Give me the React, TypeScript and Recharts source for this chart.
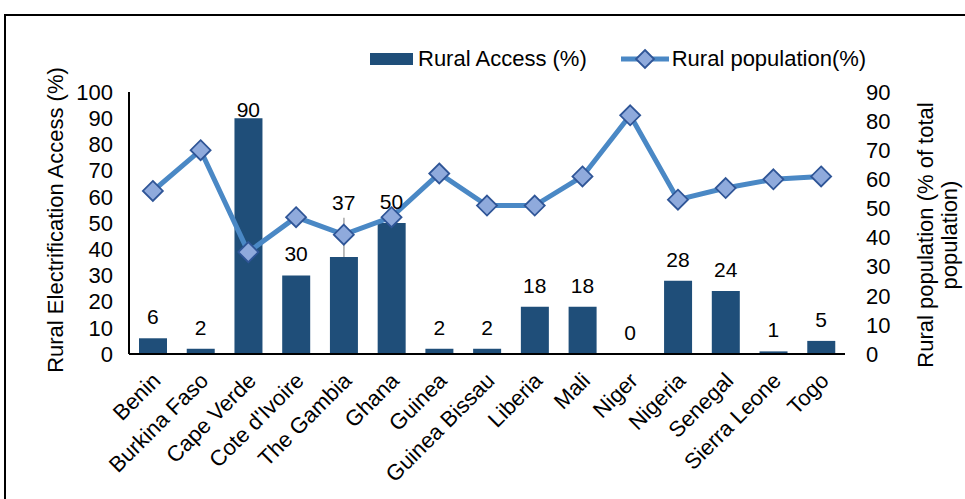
import {
  Bar,
  ComposedChart,
  ErrorBar,
  LabelList,
  Line,
  XAxis,
  YAxis,
} from "recharts";

const countries = [
  "Benin",
  "Burkina Faso",
  "Cape Verde",
  "Cote d'Ivoire",
  "The Gambia",
  "Ghana",
  "Guinea",
  "Guinea Bissau",
  "Liberia",
  "Mali",
  "Niger",
  "Nigeria",
  "Senegal",
  "Sierra Leone",
  "Togo",
];
const ruralAccess = [6, 2, 90, 30, 37, 50, 2, 2, 18, 18, 0, 28, 24, 1, 5];
const ruralPopulation = [56, 70, 35, 47, 41, 47, 62, 51, 51, 61, 82, 53, 57, 60, 61];
// only The Gambia carries an (upward) error bar
const accessError: (number[] | null)[] = [
  null, null, null, null, [0, 15], null, null, null, null, null, null, null, null, null, null,
];
const leftTicks = [0, 10, 20, 30, 40, 50, 60, 70, 80, 90, 100];
const rightTicks = [0, 10, 20, 30, 40, 50, 60, 70, 80, 90];

const data = countries.map((name, i) => ({
  name,
  access: ruralAccess[i],
  population: ruralPopulation[i],
  err: accessError[i],
}));

const FONT = "'Liberation Sans', Arial, sans-serif";
const BAR = "#1F4E79";
const LINE = "#4A88C5";
const DOT_FILL = "#8FAADC";
const DOT_STROKE = "#2F5597";

function Diamond(props: any) {
  const { cx, cy } = props;
  if (cx == null || cy == null) return null;
  const r = 10;
  return (
    <path
      d={`M${cx},${cy - r}L${cx + r},${cy}L${cx},${cy + r}L${cx - r},${cy}Z`}
      fill={DOT_FILL}
      stroke={DOT_STROKE}
      strokeWidth={1.8}
    />
  );
}

function CountryTick(props: any) {
  const { x, y, payload } = props;
  const ax = x + 9;
  const ay = y + 20;
  return (
    <text
      x={ax}
      y={ay}
      transform={`rotate(-45, ${ax}, ${ay})`}
      textAnchor="end"
      fontSize={22}
      fontFamily={FONT}
      fill="#000"
    >
      {payload.value}
    </text>
  );
}

// labels hang off an invisible line so the zero bar (Niger) still gets one
function AccessLabel(props: any) {
  const { x, y, value, index } = props;
  let ly = y - 14;
  if (accessError[index]) ly -= 33;
  if (ly < 117) ly = 117;
  return (
    <text
      x={x}
      y={ly}
      textAnchor="middle"
      fontSize={21}
      fontFamily={FONT}
      fill="#000"
    >
      {value}
    </text>
  );
}

function LegendBox() {
  return (
    <div
      style={{
        position: "absolute",
        left: 370,
        top: 46,
        display: "flex",
        alignItems: "center",
        fontFamily: FONT,
        fontSize: 22,
        color: "#000",
        whiteSpace: "nowrap",
      }}
    >
      <span style={{ display: "inline-block", width: 43, height: 12, background: BAR }} />
      <span style={{ marginLeft: 5 }}>Rural Access (%)</span>
      <svg width={48} height={22} style={{ marginLeft: 34 }}>
        <line x1={0} y1={11} x2={48} y2={11} stroke={LINE} strokeWidth={5} />
        <path d="M24,2L33,11L24,20L15,11Z" fill={DOT_FILL} stroke={DOT_STROKE} strokeWidth={1.8} />
      </svg>
      <span style={{ marginLeft: 3 }}>Rural population(%)</span>
    </div>
  );
}

export default function App() {
  return (
    <div
      style={{
        position: "fixed",
        left: 0,
        top: 0,
        width: 965,
        height: 499,
        overflow: "hidden",
        background: "#fff",
      }}
    >
      <div
        style={{
          position: "absolute",
          left: 4,
          top: 14,
          width: 1100,
          height: 700,
          borderLeft: "2px solid #000",
          borderTop: "2px solid #000",
        }}
      />
      <LegendBox />
      <div style={{ position: "absolute", left: 0, top: 0 }}>
        <ComposedChart
          width={965}
          height={499}
          data={data}
          margin={{ top: 92, right: 60, left: 69, bottom: 15 }}
        >
          <XAxis
            dataKey="name"
            interval={0}
            tickLine={false}
            axisLine={{ stroke: "#000", strokeWidth: 2 }}
            tick={<CountryTick />}
            height={130}
          />
          <YAxis
            yAxisId="left"
            domain={[0, 100]}
            ticks={leftTicks}
            interval={0}
            width={60}
            tickLine={false}
            axisLine={{ stroke: "#000", strokeWidth: 2 }}
            tickMargin={10}
            tick={{ fontSize: 22, fontFamily: FONT, fill: "#000" }}
          />
          <YAxis
            yAxisId="right"
            orientation="right"
            domain={[0, 90]}
            ticks={rightTicks}
            interval={0}
            width={60}
            tickLine={false}
            axisLine={false}
            tickMargin={15}
            tick={{ fontSize: 22, fontFamily: FONT, fill: "#000", textAnchor: "start" }}
          />
          <Bar
            yAxisId="left"
            dataKey="access"
            fill={BAR}
            barSize={28}
            isAnimationActive={false}
          >
            <ErrorBar dataKey="err" width={0} stroke="#A6A6A6" strokeWidth={1.5} direction="y" />
          </Bar>
          <Line
            yAxisId="left"
            dataKey="access"
            stroke="none"
            dot={false}
            activeDot={false}
            legendType="none"
            isAnimationActive={false}
          >
            <LabelList dataKey="access" content={<AccessLabel />} />
          </Line>
          <Line
            yAxisId="right"
            dataKey="population"
            stroke={LINE}
            strokeWidth={5}
            dot={<Diamond />}
            activeDot={false}
            isAnimationActive={false}
          />
          <text
            x={55}
            y={220}
            transform="rotate(-90, 55, 220)"
            textAnchor="middle"
            dominantBaseline="central"
            fontSize={22}
            fontFamily={FONT}
            fill="#000"
          >
            Rural Electrification Access (%)
          </text>
          <text
            x={937}
            y={235}
            transform="rotate(-90, 937, 235)"
            textAnchor="middle"
            dominantBaseline="central"
            fontSize={22}
            fontFamily={FONT}
            fill="#000"
          >
            <tspan x={937} dy={-12}>Rural population (% of total</tspan>
            <tspan x={937} dy={24}>population)</tspan>
          </text>
        </ComposedChart>
      </div>
    </div>
  );
}
